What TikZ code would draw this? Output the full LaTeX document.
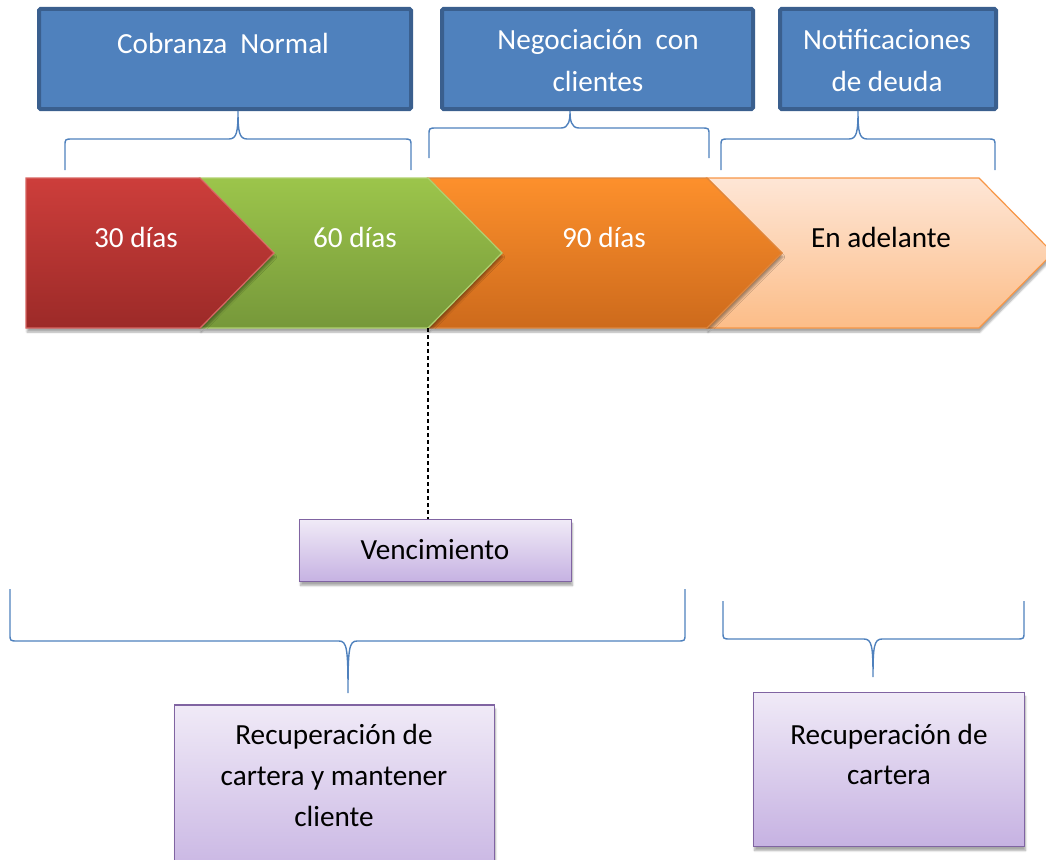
\documentclass[tikz,border=0pt]{standalone}
\usepackage{fontspec}
\setmainfont{Carlito}
\usetikzlibrary{shadows.blur}
\definecolor{bluef}{HTML}{4F81BD}
\definecolor{blued}{HTML}{3A5F8E}
\definecolor{redt}{HTML}{CD3E3B}
\definecolor{redb}{HTML}{9C2A28}
\definecolor{greent}{HTML}{9CC54B}
\definecolor{greenb}{HTML}{76983A}
\definecolor{orat}{HTML}{FD902C}
\definecolor{orab}{HTML}{CD6A1C}
\definecolor{peat}{HTML}{FEE6D6}
\definecolor{peab}{HTML}{FCBD88}
\definecolor{orad}{HTML}{F79646}
\definecolor{purt}{HTML}{F0EAF7}
\definecolor{purb}{HTML}{C6B2E2}
\definecolor{purd}{HTML}{8064A2}
\newcommand\mybrace[7]{% x1, x2, xt, yend, yh, ytip, dir
  \draw[bracel] (#1,#4) -- (#1,{#5+7*#7}) .. controls (#1,#5) .. ({#1+8},#5)
   -- ({#3-9},#5) .. controls ({#3-1},#5) and (#3,{#5-8*#7}) .. (#3,#6)
   .. controls (#3,{#5-8*#7}) and ({#3+1},#5) .. ({#3+9},#5)
   -- ({#2-8},#5) .. controls (#2,#5) .. (#2,{#5+7*#7}) -- (#2,#4);}
\begin{document}
\begin{tikzpicture}[x=1pt,y=-1pt,
  txt/.style={font=\fontsize{29.2}{35}\selectfont, inner sep=0pt, anchor=base},
  wtxt/.style={txt, text=white},
  topbox/.style={draw=blued, line width=4pt, fill=bluef, inner sep=0pt, rounded corners=1.5pt},
  purbox/.style={draw=purd, line width=1.6pt, top color=purt, bottom color=purb, inner sep=0pt,
    blur shadow={shadow xshift=1pt, shadow yshift=-4pt, shadow opacity=35, shadow blur steps=6}},
  chev/.style={line width=1.2pt,
    blur shadow={shadow xshift=1pt, shadow yshift=-4pt, shadow opacity=35, shadow blur steps=6}},
  bracel/.style={draw=bluef, line width=1.4pt},
  dline/.style={draw=black, dash pattern=on 4pt off 3pt, line width=1.1pt}]
\useasboundingbox (0,0) rectangle (1046,859);
\clip (0,0) rectangle (1046,859);

% top boxes
\node[topbox, minimum width=372, minimum height=100] (b1) at (225,59) {};
\node[topbox, minimum width=311, minimum height=100] (b2) at (597.5,59) {};
\node[topbox, minimum width=216, minimum height=100] (b3) at (888,59) {};
\node[wtxt] (t1) at (223,53) {Cobranza\ \ Normal};
\node[wtxt] (t2a) at (598,50) {Negociación\ \ con};
\node[wtxt] (t2b) at (598,91) {clientes};
\node[wtxt] (t3a) at (887,50) {Notificaciones};
\node[wtxt] (t3b) at (887,91) {de deuda};

% top braces
\mybrace{65}{411}{238}{170}{139}{111}{1}
\mybrace{429}{709}{570}{158}{128}{111}{1}
\mybrace{721}{995}{858}{170}{139}{111}{1}

% chevrons
\path[chev, draw=orad, top color=peat, bottom color=peab]
  (707,178) -- (979,178) -- (1053,253) -- (979,328) -- (707,328) -- (782,253) -- cycle;
\path[chev, draw=orad!90!black, top color=orat, bottom color=orab]
  (428,178) -- (707,178) -- (782,253) -- (707,328) -- (428,328) -- (502,253) -- cycle;
\path[chev, draw=greent!80!white, top color=greent, bottom color=greenb]
  (200,178) -- (428,178) -- (502,253) -- (428,328) -- (200,328) -- (274,253) -- cycle;
\path[chev, draw=redt!80!white, top color=redt, bottom color=redb]
  (26,178) -- (200,178) -- (274,253) -- (200,328) -- (26,328) -- cycle;
\coordinate (vd) at (428,328);
\node[wtxt] (c1) at (136,247) {30 días};
\node[wtxt] (c2) at (355,247) {60 días};
\node[wtxt] (c3) at (604,247) {90 días};
\node[txt] (c4) at (881,247) {En adelante};

% vencimiento
\node[purbox, minimum width=272, minimum height=62] (ven) at (435.5,550.5) {};
\node[txt] (vt) at (435,559) {Vencimiento};
\draw[dline] (vd) -- (vd |- ven.north);

% bottom braces
\mybrace{10}{685}{348}{589}{641}{693}{-1}
\mybrace{723}{1024}{873}{601}{639}{677}{-1}

% bottom boxes
\node[purbox, minimum width=320, minimum height=180] (r1) at (334.5,795) {};
\node[txt] (r1a) at (334,744) {Recuperación de};
\node[txt] (r1b) at (334,785) {cartera y mantener};
\node[txt] (r1c) at (334,826) {cliente};
\node[purbox, minimum width=271, minimum height=154] (r2) at (889,769.5) {};
\node[txt] (r2a) at (889,744) {Recuperación de};
\node[txt] (r2b) at (889,784) {cartera};
\end{tikzpicture}
\end{document}
